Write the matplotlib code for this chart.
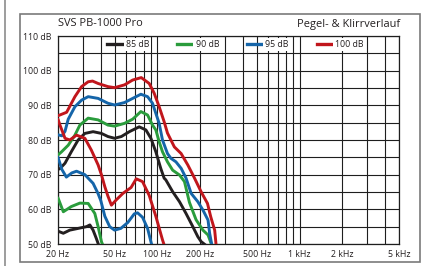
import matplotlib
matplotlib.use("Agg")
import matplotlib.pyplot as plt
from matplotlib.lines import Line2D
from matplotlib.patches import Rectangle

# ---------------- data ----------------
title_left = "SVS PB-1000 Pro"
title_right = "Pegel- & Klirrverlauf"
series_labels = ["85 dB", "90 dB", "95 dB", "100 dB"]
series_colors = ["#231f20", "#2a9c3c", "#1565a9", "#c1161c"]

x_tick_vals = [20, 50, 100, 200, 500, 1000, 2000, 5000]
x_tick_labels = ["20 Hz", "50 Hz", "100 Hz", "200 Hz", "500 Hz", "1 kHz", "2 kHz", "5 kHz"]
y_tick_vals = [50, 60, 70, 80, 90, 100, 110]
y_tick_labels = ["50 dB", "60 dB", "70 dB", "80 dB", "90 dB", "100 dB", "110 dB"]

# level (frequency response) curves
f_85 = [20, 20.7, 22.4, 24.8, 27.7, 30.9, 35.3, 40.4, 44.9, 50, 55.8, 63.5, 74.5, 83, 90,
        97.5, 105.6, 111.5, 114.6, 128, 143, 159, 177.5, 192.5, 203, 221]
db_85 = [71.5, 71.8, 73.3, 76.6, 80, 81.9, 82.4, 81.9, 81, 80.5, 81, 82.4, 83.8, 82.9, 80.5,
         76.6, 71.8, 69, 68.5, 65.1, 62.2, 58.8, 55, 52.1, 50.7, 49.5]

f_90 = [20, 21.2, 23.6, 26.3, 28.5, 32.6, 38.3, 44.9, 50, 58.7, 67, 76.5, 85.3, 92.4, 97.5,
        102.9, 108.6, 117.7, 128, 143, 155, 168, 187, 209, 227, 242]
db_90 = [75.7, 76.6, 78.5, 81.4, 84.3, 86.3, 85.8, 84.3, 84, 84.8, 86, 88.2, 87.2, 84.3, 82.9,
         79.5, 76.6, 73.7, 71.3, 69.9, 68, 62, 57, 54, 52.6, 49.5]

f_95 = [20, 21.3, 22.4, 23.6, 26.3, 29.3, 32.6, 38.3, 44.9, 50, 58.7, 67, 76.5, 85.3, 92.4,
        97.5, 102.9, 108.6, 117.7, 124.6, 135, 147, 159, 172.7, 192.5, 209, 227, 233, 242]
db_95 = [81.5, 81.2, 82.5, 86, 89.6, 91.5, 92.5, 92, 90.6, 90.1, 90.8, 92, 93.2, 92.5, 90.6,
         87.7, 84.8, 80, 76.1, 74.7, 73.7, 71.8, 69, 64.6, 62.2, 59.8, 56.9, 53.1, 49.5]

f_100 = [20, 23, 26.3, 29.3, 32.6, 35, 38.3, 44.9, 50, 58.7, 67, 77, 87.6, 94.9, 102.9,
         111.5, 117.7, 131.6, 146.8, 163.6, 182.4, 203.3, 225, 237, 252.8, 259]
db_100 = [87, 88, 92.5, 95.4, 96.8, 97, 96.3, 95.4, 95.1, 95.9, 97.3, 98, 96.3, 93.5, 89.6,
          85.3, 82, 78, 76.1, 72.8, 69, 65, 61.7, 57.9, 54, 49.5]

# distortion curves
fd_85 = [20, 21.8, 24.2, 27.7, 31.7, 33.5, 35.3, 37.2, 38.8]
dd_85 = [53.7, 53.1, 54, 54.5, 55, 55.5, 54, 51.6, 49.5]

fd_90 = [20, 21.8, 24.8, 28.5, 32.6, 36.3, 38.3, 40.4, 41.5]
dd_90 = [63.3, 59.3, 60.8, 61.8, 61.7, 58.8, 55, 50.7, 49.5]

fd_95 = [20, 21.3, 22.9, 25, 27, 30.9, 35.3, 38.3, 40, 42.7, 46.2, 50, 55.3, 61.9, 68.8,
         72.5, 78.6, 85.3, 90.5, 92]
dd_95 = [75, 71.5, 69.3, 70.5, 71, 70, 67.5, 64.5, 62.5, 58, 55, 54, 54.5, 56.2, 58.7,
         59, 57.7, 54.5, 50.3, 49.5]

fd_100 = [20, 20.65, 22.4, 24.2, 27, 30.9, 34.3, 38.3, 40.4, 42.7, 44.9, 47.5, 51.3, 57.2,
          65.3, 71, 78.6, 87.6, 97.5, 108.6, 112]
dd_100 = [86, 84.3, 80.5, 80, 81.4, 80.5, 77.1, 72.8, 70, 66.5, 63.8, 61.2, 62.7, 64.6,
          66.3, 68.8, 68, 64, 58, 51.2, 49.5]

level_f = [f_85, f_90, f_95, f_100]
level_db = [db_85, db_90, db_95, db_100]
dist_f = [fd_85, fd_90, fd_95, fd_100]
dist_db = [dd_85, dd_90, dd_95, dd_100]

# ---------------- figure ----------------
plt.rcParams['font.family'] = ['Open Sans', 'DejaVu Sans']
fig = plt.figure(figsize=(4.3, 2.66), dpi=100)
W, H = 430, 266

# outer decorations
fig.add_artist(Line2D([5 / W, 5 / W], [0, 1], color="#8c8c8c", lw=1.2))
fig.add_artist(Rectangle((20 / W, (H - 262) / H), 400 / W, 248 / H, fill=False,
                         edgecolor="#7a7a7a", lw=1.2))

ax = fig.add_axes([58 / W, (H - 244) / H, 341 / W, 208 / H])
ax.set_xscale("log")
ax.set_xlim(20, 5000)
ax.set_ylim(50, 110)

grid_x = list(range(20, 100, 10)) + list(range(100, 1000, 100)) + list(range(1000, 5001, 1000))
grid_y = list(range(50, 111, 5))
for gx in grid_x:
    ax.axvline(gx, color="#1e1e1e", lw=0.8, zorder=1)
for gy in grid_y:
    ax.axhline(gy, color="#1e1e1e", lw=0.8, zorder=1)

for fl, dl, fdl, ddl, c in zip(level_f, level_db, dist_f, dist_db, series_colors):
    ax.plot(fl, dl, color=c, lw=2.1, solid_joinstyle="round", solid_capstyle="round", zorder=3)
    ax.plot(fdl, ddl, color=c, lw=2.1, solid_joinstyle="round", solid_capstyle="round", zorder=3)

ax.set_xticks(x_tick_vals)
ax.set_xticklabels(x_tick_labels)
ax.xaxis.set_minor_locator(matplotlib.ticker.NullLocator())
ax.set_yticks(y_tick_vals)
ax.set_yticklabels(y_tick_labels)
ax.tick_params(length=0, labelsize=6.3, colors="#231f20", pad=5)
ax.tick_params(axis="x", pad=4)
for s in ax.spines.values():
    s.set_color("#1e1e1e")
    s.set_linewidth(0.9)

handles = [Line2D([], [], color=c, lw=2.4) for c in series_colors]
leg = ax.legend(handles, series_labels, ncol=4, loc="center left",
                bbox_to_anchor=(0.145, 0.958), frameon=False, fontsize=6.3,
                handlelength=1.65, handletextpad=0.45, columnspacing=3.2,
                borderpad=0, borderaxespad=0)
leg.set_zorder(5)
for t in leg.get_texts():
    t.set_color("#231f20")
    t.set_bbox(dict(facecolor="white", edgecolor="none", pad=1.5))

fig.text(58 / W, 1 - 24 / H, title_left, ha="left", va="center", fontsize=7.9, color="#231f20")
fig.text(400 / W, 1 - 24 / H, title_right, ha="right", va="center", fontsize=7.9, color="#231f20")

fig.savefig("out.png", dpi=100)
